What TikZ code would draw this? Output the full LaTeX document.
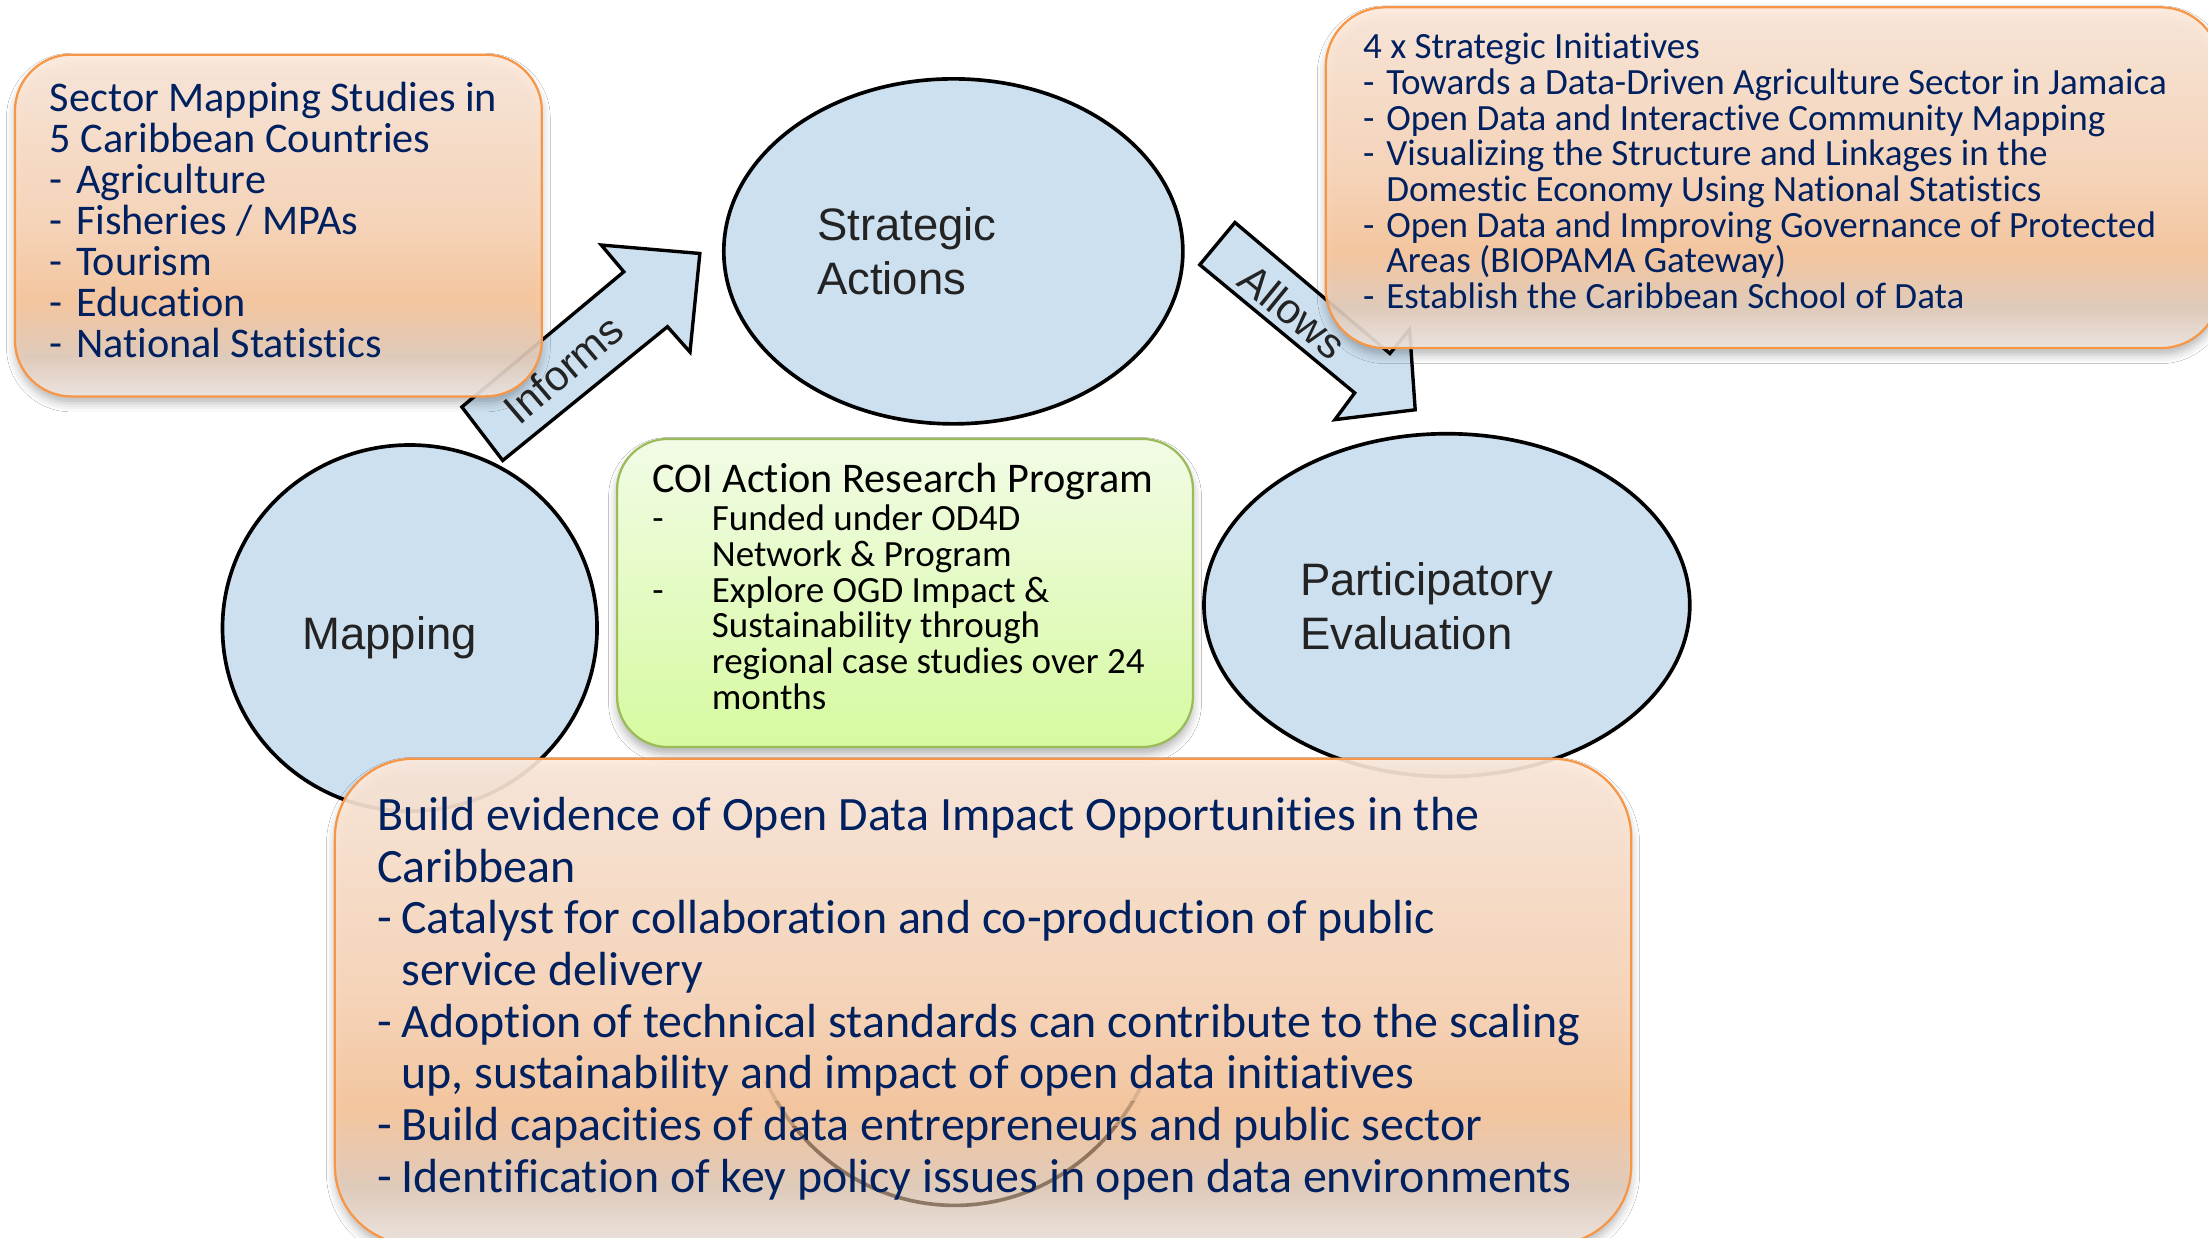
\documentclass[tikz,border=0pt]{standalone}
\usepackage{fontspec}
\setmainfont{Carlito}[Ligatures=NoCommon]
\newfontfamily\arialf{Liberation Sans}
\usetikzlibrary{shapes.geometric,shadows.blur}
\definecolor{navy}{RGB}{0,32,96}
\definecolor{cblue}{RGB}{205,224,240}
\definecolor{circtext}{RGB}{35,35,35}
\definecolor{oborder}{RGB}{247,150,70}
\definecolor{gborder}{RGB}{155,187,89}
\definecolor{otop}{RGB}{253,234,220}
\definecolor{olight}{RGB}{252,214,184}
\definecolor{omid}{RGB}{250,199,156}
\definecolor{otan}{RGB}{228,204,186}
\definecolor{obot}{RGB}{240,232,226}
\definecolor{gtop}{RGB}{242,251,230}
\definecolor{gbot}{RGB}{214,250,160}
\definecolor{arcbrown}{RGB}{85,62,40}
\pgfdeclareverticalshading{orangeshade}{100bp}{color(0bp)=(obot); color(25bp)=(obot); color(31bp)=(otan); color(39bp)=(omid); color(50bp)=(olight); color(75bp)=(otop); color(100bp)=(otop)}
\newcommand\mydash[1]{\makebox[#1][l]{-}}
\newcommand\myind[1]{\hspace*{#1}}
\begin{document}
\begin{tikzpicture}[x=1pt,y=-1pt,
  circ/.style={draw=black, line width=2.6pt, fill=cblue, ellipse, inner sep=0pt},
  blockarrow/.style={draw=black, line width=2.4pt, fill=cblue, line join=miter},
  boxshadow/.style={blur shadow={shadow xshift=0pt, shadow yshift=-5pt, shadow blur radius=6pt, shadow opacity=30}},
  obox/.style={draw=oborder, line width=1.6pt, shading=orangeshade, fill opacity=0.9, boxshadow, anchor=north west, inner sep=0pt},
  gbox/.style={draw=gborder, line width=1.6pt, top color=gtop, bottom color=gbot, boxshadow, anchor=north west, inner sep=0pt},
  ctext/.style={font=\arialf\fontsize{32.3}{38}\selectfont, text=circtext, anchor=base west, inner sep=0pt},
  atext/.style={font=\arialf\fontsize{30}{30}\selectfont, text=circtext, inner sep=0pt},
  sectext/.style={font=\fontsize{30}{29}\selectfont, text=navy, anchor=base west, inner sep=0pt},
  sitext/.style={font=\fontsize{26.3}{25}\selectfont, text=navy, anchor=base west, inner sep=0pt},
  coititle/.style={font=\fontsize{30}{29}\selectfont, text=black, anchor=base west, inner sep=0pt},
  coitext/.style={font=\fontsize{26.3}{25}\selectfont, text=black, anchor=base west, inner sep=0pt},
  bottext/.style={font=\fontsize{34}{36}\selectfont, text=navy, anchor=base west, inner sep=0pt},
  hiddenarc/.style={draw=arcbrown, line width=2.6pt}
]
\useasboundingbox (0,0) rectangle (1568,879.1);
\fill[white] (0,0) rectangle (1568,879.1);

% circles
\node (sa) [circ, minimum width=326pt, minimum height=245pt] at (677,178.5) {};
\node (map) [circ, minimum width=266pt, minimum height=260pt] at (291,446) {};
\node (pe) [circ, minimum width=345pt, minimum height=243.4pt] at (1027.5,429.7) {};

% block arrows
\draw[blockarrow] (328,289) -- (443,193) -- (427,174) -- (497,180) -- (490,250) -- (474,232) -- (357,327) -- cycle;
\draw[blockarrow] (877,158) -- (987,251) -- (1001,234) -- (1005,291) -- (948,298) -- (962,279) -- (852,188) -- cycle;
\node (inf) [atext, rotate=40.5] at (400,262) {Informs};
\node (alw) [atext, rotate=-39.3] at (918,221) {Allows};

% boxes
\node (secbox) [obox, rounded corners=40pt, minimum width=374.2pt, minimum height=242.7pt] at (9.8,38) {};
\node (sibox) [obox, rounded corners=42pt, minimum width=635pt, minimum height=242pt] at (940.7,4.4) {};
\node (coibox) [gbox, rounded corners=36pt, minimum width=409pt, minimum height=218.8pt] at (437.4,310.9) {};
\node (botbox) [obox, rounded corners=56pt, minimum width=920.6pt, minimum height=345pt] at (237,538) {};

% faint lower arc of a circle seen through the bottom box
\begin{scope}
  \clip (240,768) rectangle (1150,782);
  \draw[hiddenarc, opacity=0.15] (678,696) ellipse [x radius=150, y radius=160];
\end{scope}
\begin{scope}
  \clip (240,782) rectangle (1150,800);
  \draw[hiddenarc, opacity=0.35] (678,696) ellipse [x radius=150, y radius=160];
\end{scope}
\begin{scope}
  \clip (240,800) rectangle (1150,875);
  \draw[hiddenarc, opacity=0.6] (678,696) ellipse [x radius=150, y radius=160];
\end{scope}

% circle labels
\node (sa1) [ctext] at (580,171) {Strategic};
\node (sa2) [ctext] at (580,209.4) {Actions};
\node (map1) [ctext] at (214.6,460.9) {Mapping};
\node (pe1) [ctext] at (923,423.2) {Participatory};
\node (pe2) [ctext] at (923,460.9) {Evaluation};

% sector mapping text
\foreach \mytext [count=\i] in {Sector Mapping Studies in, 5 Caribbean Countries, \mydash{18.5pt}Agriculture, \mydash{18.5pt}Fisheries / MPAs, \mydash{18.5pt}Tourism, \mydash{18.5pt}Education, \mydash{18.5pt}National Statistics}
  \node (sec\i) [sectext] at (35.3,{79+29.1*(\i-1)}) {\mytext};

% strategic initiatives text
\foreach \mytext [count=\i] in {4 x Strategic Initiatives, \mydash{16.5pt}Towards a Data-Driven Agriculture Sector in Jamaica, \mydash{16.5pt}Open Data and Interactive Community Mapping, \mydash{16.5pt}Visualizing the Structure and Linkages in the, \myind{16.5pt}Domestic Economy Using National Statistics, \mydash{16.5pt}Open Data and Improving Governance of Protected, \myind{16.5pt}Areas (BIOPAMA Gateway), \mydash{16.5pt}Establish the Caribbean School of Data}
  \node (si\i) [sitext] at (967.8,{41.7+25.36*(\i-1)}) {\mytext};

% COI text
\node (coi0) [coititle] at (463,349.5) {COI Action Research Program};
\foreach \mytext [count=\i] in {\mydash{42.3pt}Funded under OD4D, \myind{42.3pt}Network \& Program, \mydash{42.3pt}Explore OGD Impact \&, \myind{42.3pt}Sustainability through, \myind{42.3pt}regional case studies over 24, \myind{42.3pt}months}
  \node (coi\i) [coitext] at (463,{376.8+25.36*(\i-1)}) {\mytext};

% bottom box text
\foreach \mytext [count=\i] in {Build evidence of Open Data Impact Opportunities in the, Caribbean, \mydash{17.1pt}Catalyst for collaboration and co-production of public, \myind{17.1pt}service delivery, \mydash{17.1pt}Adoption of technical standards can contribute to the scaling, {\myind{17.1pt}up, sustainability and impact of open data initiatives}, \mydash{17.1pt}Build capacities of data entrepreneurs and public sector, \mydash{17.1pt}Identification of key policy issues in open data environments}
  \node (bot\i) [bottext] at (267.7,{589.7+36.72*(\i-1)}) {\mytext};
\end{tikzpicture}
\end{document}
